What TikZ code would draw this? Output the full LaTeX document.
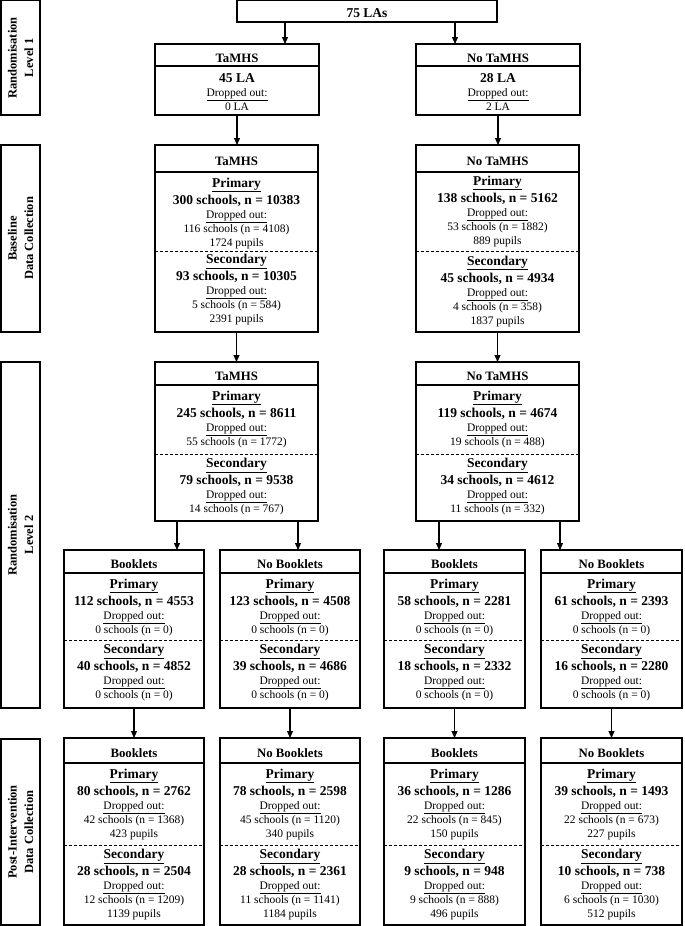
\documentclass[tikz,border=0pt]{standalone}
\usepackage{fontspec}
\setmainfont{Liberation Serif}
\usetikzlibrary{arrows.meta}

\tikzset{
  box/.style={draw, line width=1.2pt, inner sep=0pt, outer sep=0pt, anchor=north west},
  rule/.style={line width=1.2pt},
  dsh/.style={line width=0.8pt, dash pattern=on 3pt off 2pt},
  arr/.style={line width=1.1pt, -{Triangle[length=7pt,width=6pt]}},
  hd/.style={font=\fontsize{12.8}{14}\selectfont\bfseries, anchor=base, inner sep=0pt},
  tt/.style={font=\fontsize{13.5}{15}\selectfont\bfseries, anchor=base, inner sep=0pt},
  sm/.style={font=\fontsize{11.5}{13}\selectfont, anchor=base, inner sep=0pt},
  labtext/.style={font=\fontsize{12.5}{16.5}\selectfont\bfseries, rotate=90, align=center, inner sep=0pt},
}

% box with a header band: name, x1, y1, x2, y2, header line y, header text
\newcommand{\flowbox}[7]{%
  \node[box, minimum width={(#4-#2)*1pt}, minimum height={(#5-#3)*1pt}] (#1) at (#2,#3) {};
  \draw[rule] (#2,#6) -- (#4,#6);
  \node[hd] (#1h) at ({(#2+#4)/2},{(#3+#6)/2+7}) {#7};
}
% section: name, cx, y0, title, count, dropped line, pupils line (may be empty)
\newcommand{\boxsec}[7]{%
  \node[tt] (#1t) at (#2,{#3+14}) {\underline{#4}};
  \node[tt] (#1c) at (#2,{#3+31}) {#5};
  \node[sm] (#1d) at (#2,{#3+45}) {\underline{Dropped out:}};
  \node[sm] (#1s) at (#2,{#3+59}) {#6};
  \if\relax\detokenize{#7}\relax\else
  \node[sm] (#1p) at (#2,{#3+73}) {#7};
  \fi
}
\newcommand{\labbox}[5]{% name, y1, y2, line1, line2
  \node[box, minimum width=39pt, minimum height={(#3-#2)*1pt}] (#1) at (1,#2) {};
  \node[labtext] (#1t) at (#1.center) {#4\\#5};
}

\begin{document}
\begin{tikzpicture}[x=1pt,y=-1pt]
\useasboundingbox (0,0) rectangle (685,926);

% left labels
\labbox{lab1}{0.7}{115}{Randomisation}{Level 1}
\labbox{lab2}{145}{332}{Baseline}{Data Collection}
\labbox{lab3}{362}{708}{Randomisation}{Level 2}
\labbox{lab4}{739}{925}{Post-Intervention}{Data Collection}

% top
\node[box, minimum width=260pt, minimum height=21.3pt] (top) at (237,0.7) {};
\node[tt] (topt) at (367,17.5) {75 LAs};

% level 1
\flowbox{la}{155}{44}{319}{115}{66}{TaMHS}
\node[tt] (lac) at (237,82) {45 LA};
\node[sm] (lad) at (237,96) {\underline{Dropped out:}};
\node[sm] (las) at (237,110) {0 LA};
\flowbox{lb}{416}{44}{580}{115}{66}{No TaMHS}
\node[tt] (lbc) at (498,82) {28 LA};
\node[sm] (lbd) at (498,96) {\underline{Dropped out:}};
\node[sm] (lbs) at (498,110) {2 LA};

% baseline
\flowbox{ba}{155}{145}{318}{332}{172}{TaMHS}
\draw[dsh] (155,251) -- (318,251);
\boxsec{bap}{236.5}{173}{Primary}{300 schools, n = 10383}{116 schools (n = 4108)}{1724 pupils}
\boxsec{bas}{236.5}{249.5}{Secondary}{93 schools, n = 10305}{5 schools (n = 584)}{2391 pupils}
\flowbox{bb}{416}{145}{579}{332}{172}{No TaMHS}
\draw[dsh] (416,251) -- (579,251);
\boxsec{bbp}{497.5}{171}{Primary}{138 schools, n = 5162}{53 schools (n = 1882)}{889 pupils}
\boxsec{bbs}{497.5}{251}{Secondary}{45 schools, n = 4934}{4 schools (n = 358)}{1837 pupils}

% randomisation level 2
\flowbox{ra}{155}{362}{318}{521}{385}{TaMHS}
\draw[dsh] (155,454) -- (318,454);
\boxsec{rap}{236.5}{386}{Primary}{245 schools, n = 8611}{55 schools (n = 1772)}{}
\boxsec{ras}{236.5}{453.5}{Secondary}{79 schools, n = 9538}{14 schools (n = 767)}{}
\flowbox{rb}{416}{362}{579}{521}{385}{No TaMHS}
\draw[dsh] (416,454) -- (579,454);
\boxsec{rbp}{497.5}{386}{Primary}{119 schools, n = 4674}{19 schools (n = 488)}{}
\boxsec{rbs}{497.5}{453.5}{Secondary}{34 schools, n = 4612}{11 schools (n = 332)}{}

% booklets (level 2)
\flowbox{ba1}{64}{550}{204}{708}{573}{Booklets}
\draw[dsh] (64,640) -- (204,640);
\boxsec{ba1p}{134}{574}{Primary}{112 schools, n = 4553}{0 schools (n = 0)}{}
\boxsec{ba1s}{134}{639.5}{Secondary}{40 schools, n = 4852}{0 schools (n = 0)}{}
\flowbox{ba2}{220}{550}{360}{708}{573}{No Booklets}
\draw[dsh] (220,640) -- (360,640);
\boxsec{ba2p}{290}{574}{Primary}{123 schools, n = 4508}{0 schools (n = 0)}{}
\boxsec{ba2s}{290}{639.5}{Secondary}{39 schools, n = 4686}{0 schools (n = 0)}{}
\flowbox{ba3}{384}{550}{525}{708}{573}{Booklets}
\draw[dsh] (384,640) -- (525,640);
\boxsec{ba3p}{454.5}{574}{Primary}{58 schools, n = 2281}{0 schools (n = 0)}{}
\boxsec{ba3s}{454.5}{639.5}{Secondary}{18 schools, n = 2332}{0 schools (n = 0)}{}
\flowbox{ba4}{541}{550}{682}{708}{573}{No Booklets}
\draw[dsh] (541,640) -- (682,640);
\boxsec{ba4p}{611.5}{574}{Primary}{61 schools, n = 2393}{0 schools (n = 0)}{}
\boxsec{ba4s}{611.5}{639.5}{Secondary}{16 schools, n = 2280}{0 schools (n = 0)}{}

% post-intervention
\flowbox{pa1}{64}{738}{204}{925}{763}{Booklets}
\draw[dsh] (64,845) -- (204,845);
\boxsec{pa1p}{134}{764}{Primary}{80 schools, n = 2762}{42 schools (n = 1368)}{423 pupils}
\boxsec{pa1s}{134}{844.5}{Secondary}{28 schools, n = 2504}{12 schools (n = 1209)}{1139 pupils}
\flowbox{pa2}{220}{738}{360}{925}{763}{No Booklets}
\draw[dsh] (220,845) -- (360,845);
\boxsec{pa2p}{290}{764}{Primary}{78 schools, n = 2598}{45 schools (n = 1120)}{340 pupils}
\boxsec{pa2s}{290}{844.5}{Secondary}{28 schools, n = 2361}{11 schools (n = 1141)}{1184 pupils}
\flowbox{pa3}{384}{738}{525}{925}{763}{Booklets}
\draw[dsh] (384,845) -- (525,845);
\boxsec{pa3p}{454.5}{764}{Primary}{36 schools, n = 1286}{22 schools (n = 845)}{150 pupils}
\boxsec{pa3s}{454.5}{844.5}{Secondary}{9 schools, n = 948}{9 schools (n = 888)}{496 pupils}
\flowbox{pa4}{541}{738}{682}{925}{763}{No Booklets}
\draw[dsh] (541,845) -- (682,845);
\boxsec{pa4p}{611.5}{764}{Primary}{39 schools, n = 1493}{22 schools (n = 673)}{227 pupils}
\boxsec{pa4s}{611.5}{844.5}{Secondary}{10 schools, n = 738}{6 schools (n = 1030)}{512 pupils}

% connectors
\coordinate (xl) at (285,0);
\coordinate (xr) at (455,0);
\coordinate (x1) at (177,0);
\coordinate (x2) at (298,0);
\coordinate (x3) at (439,0);
\coordinate (x4) at (560,0);
\draw[arr] (top.south -| xl) -- (la.north -| xl);
\draw[arr] (top.south -| xr) -- (lb.north -| xr);
\draw[arr] (la.south) -- (la.south |- ba.north);
\draw[arr] (lb.south) -- (lb.south |- bb.north);
\draw[arr] (ba.south) -- (ba.south |- ra.north);
\draw[arr] (bb.south) -- (bb.south |- rb.north);
\draw[arr] (ra.south -| x1) -- (ba1.north -| x1);
\draw[arr] (ra.south -| x2) -- (ba2.north -| x2);
\draw[arr] (rb.south -| x3) -- (ba3.north -| x3);
\draw[arr] (rb.south -| x4) -- (ba4.north -| x4);
\draw[arr] (ba1.south) -- (pa1.north);
\draw[arr] (ba2.south) -- (pa2.north);
\draw[arr] (ba3.south) -- (pa3.north);
\draw[arr] (ba4.south) -- (pa4.north);
\end{tikzpicture}
\end{document}
